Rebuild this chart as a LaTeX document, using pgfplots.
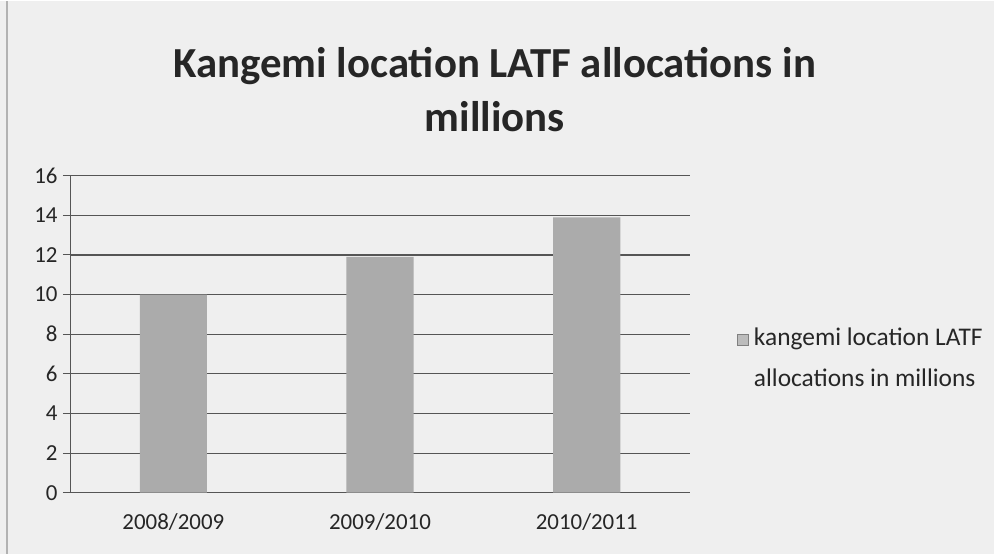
\documentclass[border=0pt]{standalone}
\usepackage{pgfplots}
\pgfplotsset{compat=1.18}
\usepackage{fontspec}
\setmainfont{Carlito}
\definecolor{bg}{HTML}{EFEFEF}
\definecolor{barc}{HTML}{ABABAB}
\definecolor{gridc}{HTML}{555555}
\definecolor{txt}{HTML}{262626}
\begin{document}
\begin{tikzpicture}[x=1bp,y=1bp]
\fill[bg] (0,0) rectangle (994,553);
\draw[gray!60, line width=1.5bp] (7,0) -- (7,553);
\useasboundingbox (0,0) rectangle (994,553);
\begin{axis}[
  at={(70bp,61bp)}, anchor=south west,
  scale only axis, width=620bp, height=317bp,
  xmin=-0.5, xmax=2.5, ymin=0, ymax=16,
  ytick distance=2,
  xtick={0,1,2},
  xticklabels={2008/2009,2009/2010,2010/2011},
  major x tick style={draw=none},
  extra x ticks={-0.5,0.5,1.5,2.5},
  extra x tick labels={},
  extra x tick style={major tick length=7bp, tick style={gridc, line width=1bp}, grid=none},
  axis lines=left, axis line style={-, gridc, line width=1bp},
  ymajorgrids, grid style={gridc, line width=1.2bp},
  y tick style={gridc, line width=1bp}, major tick length=7bp,
  tick align=outside,
  ticklabel style={font=\fontsize{23}{26}\selectfont, text=txt},
  /pgf/number format/assume math mode=true,
  xticklabel style={yshift=-10bp},
  yticklabel style={xshift=-2bp},
  title={Kangemi location LATF allocations in\\millions},
  title style={align=center, font=\fontsize{43}{55}\selectfont\bfseries, text=txt,
     at={(rel axis cs:0.685,1)}, anchor=south, yshift=34bp},
  legend style={draw=none, fill=none, at={(rel axis cs:1.07,0.508)}, anchor=west,
     font=\fontsize{25.5}{41}\selectfont, text=txt, nodes={anchor=base west}},
  legend image code/.code={\draw[fill=barc!80,draw=gray] (-5bp,0bp) rectangle (6bp,11bp);},
  clip=false,
]
\addplot[ybar, bar width=0.325, fill=barc, draw=none] coordinates {(0,10) (1,11.9) (2,13.9)};
\addlegendentry{\hspace{4bp}\begin{tabular}[t]{@{}l@{}}kangemi location LATF\\allocations in millions\end{tabular}}
\end{axis}
\end{tikzpicture}
\end{document}
